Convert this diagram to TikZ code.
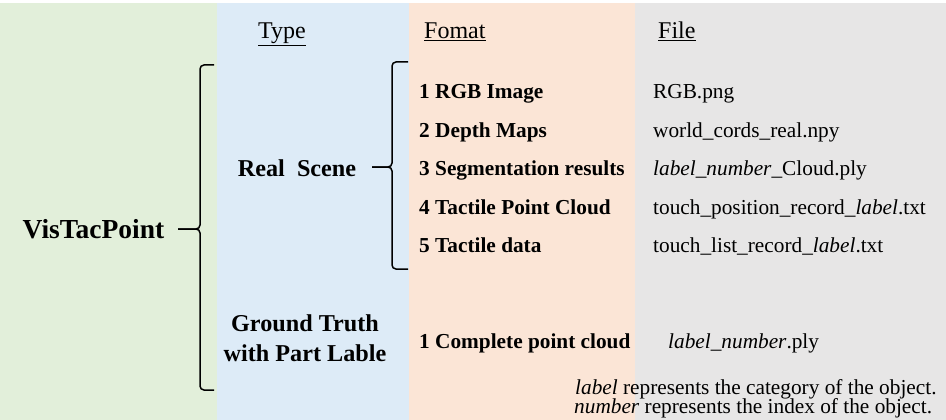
\documentclass[tikz,border=0pt]{standalone}
\usepackage{fontspec}
\setmainfont{Liberation Serif}
\definecolor{colGreen}{HTML}{E2EFDA}
\definecolor{colBlue}{HTML}{DDEBF7}
\definecolor{colPeach}{HTML}{FBE5D6}
\definecolor{colGray}{HTML}{E7E6E6}
\begin{document}
\begin{tikzpicture}[x=1pt,y=-1pt,
  txt/.style={inner sep=0pt, anchor=base west},
  head/.style={txt, font=\fontsize{24}{28}\selectfont},
  item/.style={txt, font=\fontsize{21.3}{24}\selectfont\bfseries},
  fname/.style={txt, font=\fontsize{21.3}{24}\selectfont},
  kind/.style={inner sep=0pt, anchor=base, font=\fontsize{24.2}{28}\selectfont\bfseries},
  brace/.style={line width=1.5pt, rounded corners=4pt}]
\useasboundingbox (0,0) rectangle (946,420);
\fill[white] (0,0) rectangle (946,420);
% column bands
\fill[colGreen] (0,3) rectangle (217,420);
\fill[colBlue]  (217,3) rectangle (409,420);
\fill[colPeach] (409,3) rectangle (635,420);
\fill[colGray]  (635,3) rectangle (946,420);

% column headers
\node[head] (hType) at (258,39) {\underline{Type}};
\node[head] (hFormat) at (424,39) {\underline{Fomat}};
\node[head] (hFile) at (658,39) {\underline{File}};

% root
\node[txt, font=\fontsize{27.5}{32}\selectfont\bfseries] (root) at (22.5,238) {VisTacPoint};

% types
\node[kind] (real) at (297,176) {Real\ \ Scene};
\node[kind] (gt1) at (305,331.5) {Ground Truth};
\node[kind] (gt2) at (305,361.5) {with Part Lable};

% formats
\node[item] (f1) at (419,98.5) {1 RGB Image};
\node[item] (f2) at (419,137) {2 Depth Maps};
\node[item] (f3) at (419,175.5) {3 Segmentation results};
\node[item] (f4) at (419,214) {4 Tactile Point Cloud};
\node[item] (f5) at (419,252.5) {5 Tactile data};
\node[item] (g1) at (419,348) {1 Complete point cloud};

% files
\node[fname] (d1) at (653,98.5) {RGB.png};
\node[fname] (d2) at (653,137) {world\_cords\_real.npy};
\node[fname] (d3) at (653,175.5) {\textit{label\_number}\_Cloud.ply};
\node[fname] (d4) at (653,214) {touch\_position\_record\_\textit{label}.txt};
\node[fname] (d5) at (653,252.5) {touch\_list\_record\_\textit{label}.txt};
\node[fname] (e1) at (668,348) {\textit{label\_number}.ply};

% notes
\node[fname] (n1) at (575,394) {\textit{label} represents the category of the object.};
\node[fname] (n2) at (574,413.5) {\textit{number} represents the index of the object.};

% brace from the root to the two types
\coordinate (b1t) at (214,65);
\coordinate (b1b) at (214,390);
\coordinate (b1m) at (200,229);
\coordinate (b1tip) at (178,229);
\draw[brace] (b1t) -| (b1m) -- (b1tip);
\draw[brace] (b1b) -| (b1m) -- (b1tip);

% brace from the real scene to its formats
\coordinate (b2t) at (408,62);
\coordinate (b2b) at (408,269);
\coordinate (b2m) at (392,167);
\coordinate (b2tip) at (372,167);
\draw[brace] (b2t) -| (b2m) -- (b2tip);
\draw[brace] (b2b) -| (b2m) -- (b2tip);
\end{tikzpicture}
\end{document}
